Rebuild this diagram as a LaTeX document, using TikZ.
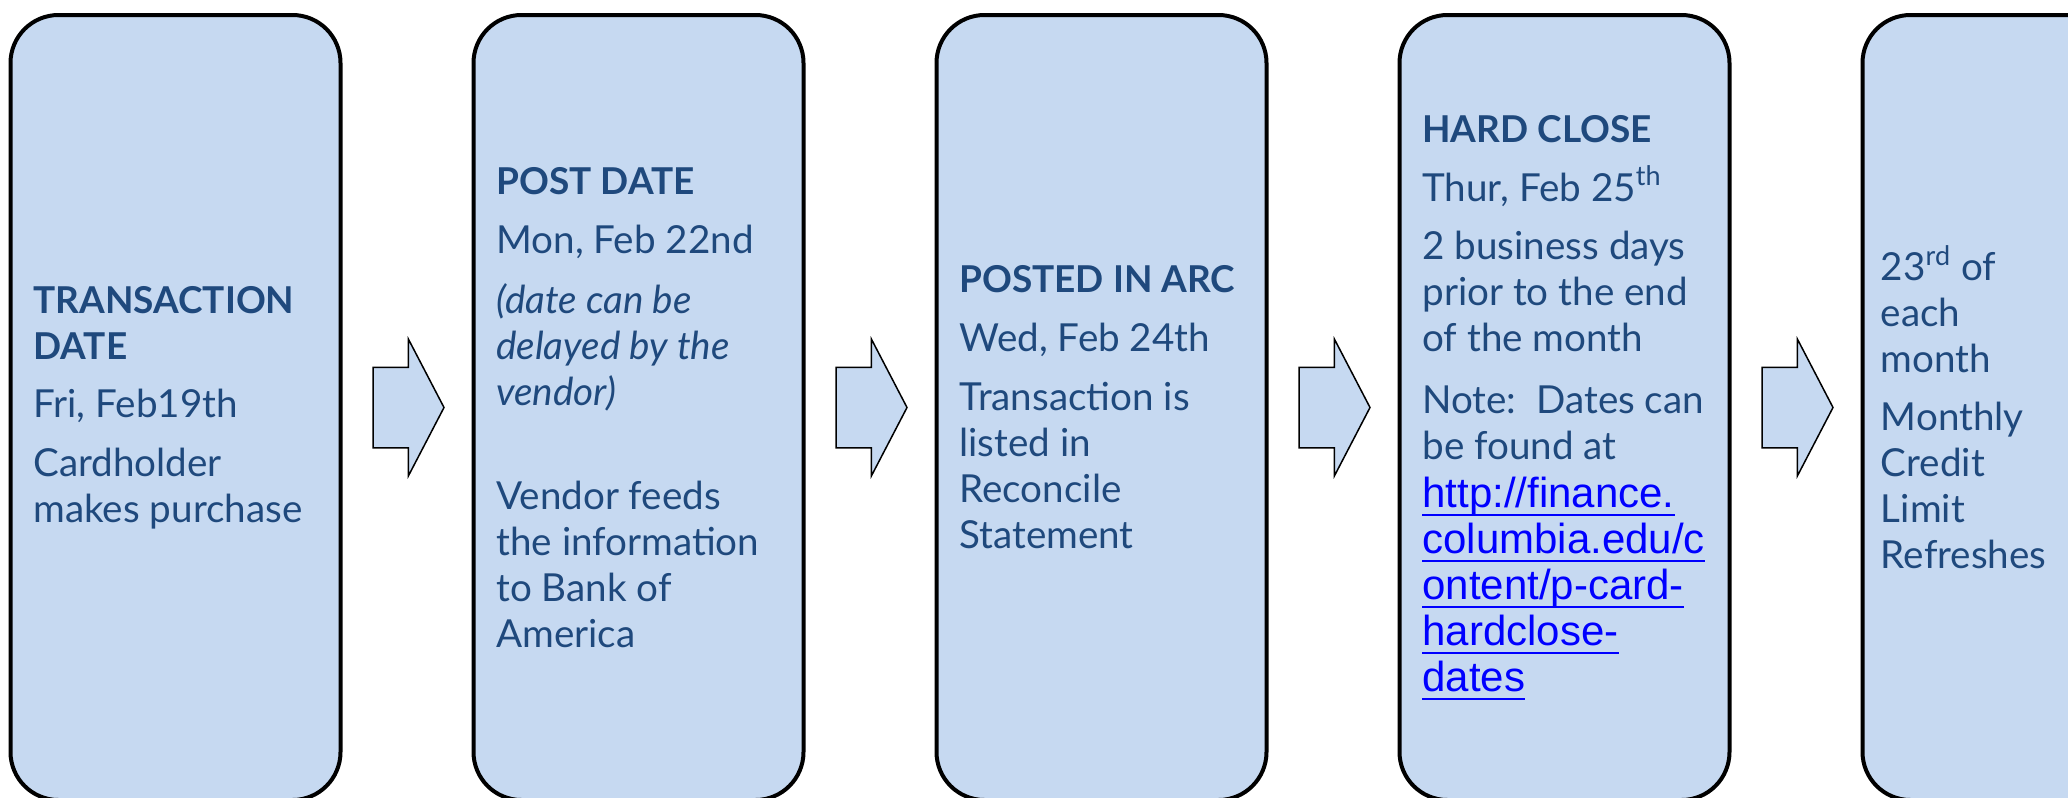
\documentclass[tikz,border=0pt]{standalone}
\usepackage{fontspec}
\setmainfont{Lato}
\newfontfamily\linkfont{Liberation Sans}
\usepackage{tikz}
\usetikzlibrary{shapes.arrows, positioning, calc}

\definecolor{stagefill}{HTML}{C6D9F1}
\definecolor{stagetext}{HTML}{1F497D}
\definecolor{linkblue}{HTML}{0000FF}

\newcommand{\stagetitle}[1]{{\fontsize{18.5}{23}\selectfont\bfseries #1}}
\newlength{\linkwd}
\newcommand{\weblink}[1]{{\linkfont\fontsize{21}{23}\selectfont\color{linkblue}%
  \settowidth{\linkwd}{#1}\rlap{#1}\rule[-4.5pt]{\linkwd}{1pt}}}

\begin{document}
\begin{tikzpicture}[
    x=0.5pt, y=-0.5pt,
    node distance=66.5pt,
    stage/.style={rectangle, draw, line width=2pt, fill=stagefill, rounded corners=24pt, minimum width=165pt, minimum height=392.5pt, outer sep=0pt},
    info/.style={align=left, inner sep=0pt, text=stagetext, font=\fontsize{19.3}{23}\selectfont},
    flow/.style={single arrow, draw, line width=0.75pt, fill=stagefill, minimum height=35.5pt, minimum width=67.5pt, single arrow head extend=14pt, single arrow tip angle=125, inner xsep=0pt, inner ysep=19.75pt, outer sep=0pt}
]
\useasboundingbox (0,0) rectangle (2068,798);

% Stages
\node[stage] (txn) at (175.5,407.5) {};
\node[stage, right=of txn] (post) {};
\node[stage, right=of post] (arc) {};
\node[stage, right=of arc] (close) {};
\node[stage, right=of close] (refresh) {};

% Texts
\node[info, right=11.25pt of txn.west] (txn text) {\stagetitle{TRANSACTION}\\ \stagetitle{DATE}\\[6pt] Fri, Feb19th\\[6.5pt] Cardholder\\ makes purchase};
\node[info, right=11.25pt of post.west] (post text) {\stagetitle{POST DATE}\\[6.5pt] Mon, Feb 22nd\\[7pt] \textit{(date can be}\\ \textit{delayed by the}\\ \textit{vendor)}\\[29pt] Vendor feeds\\ the information\\ to Bank of\\ America};
\node[info, right=11.25pt of arc.west] (arc text) {\stagetitle{POSTED IN ARC}\\[6.5pt] Wed, Feb 24th\\[6.5pt] Transaction is\\ listed in\\ Reconcile\\ Statement};
\node[info, right=11.25pt of close.west] (close text) {\stagetitle{HARD CLOSE}\\[6.5pt] Thur, Feb 25\textsuperscript{th}\\[6pt] 2 business days\\ prior to the end\\ of the month\\[8pt] Note:\ \ Dates can\\ be found at\\[1pt] \weblink{http://finance.}\\ \weblink{columbia.edu/c}\\ \weblink{ontent/p-card-}\\ \weblink{hardclose-}\\ \weblink{dates}};
\node[info, right=9pt of refresh.west] (refresh text) {23\textsuperscript{rd} of\\ each\\ month\\[6pt] Monthly\\ Credit\\ Limit\\ Refreshes};

% Arrows
\node[flow, right=16.25pt of txn.east] (step1) {};
\node[flow, right=16.25pt of post.east] (step2) {};
\node[flow, right=16.25pt of arc.east] (step3) {};
\node[flow, right=16.25pt of close.east] (step4) {};

\end{tikzpicture}
\end{document}
